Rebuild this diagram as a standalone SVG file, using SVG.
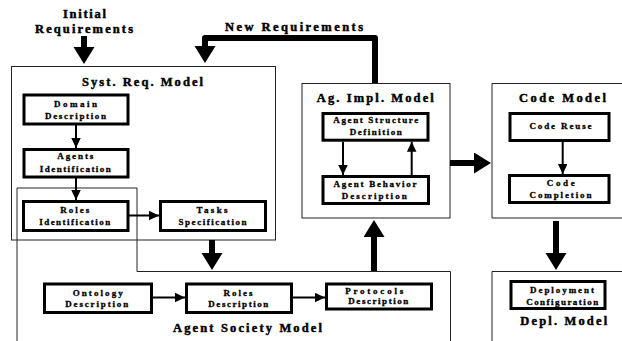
<svg xmlns="http://www.w3.org/2000/svg" width="622" height="341" viewBox="0 0 622 341">
  <style>
    .model { fill: none; stroke: #222; stroke-width: 1; }
    .node rect { fill: #fff; stroke: #000; stroke-width: 3; }
    text { font-family: "Liberation Serif", "Times New Roman", serif; font-weight: bold; fill: #000; stroke: #000; text-anchor: middle; }
    .t { font-size: 9px; stroke-width: 0.3; }
    .h { font-size: 12.5px; stroke-width: 0.45; }
    .thin { fill: none; stroke: #000; stroke-width: 2; }
    .thick { fill: none; stroke: #000; stroke-width: 6; stroke-linejoin: round; }
  </style>
  <defs>
    <marker id="head" markerUnits="userSpaceOnUse" markerWidth="11" markerHeight="10" refX="10" refY="4.75" orient="auto">
      <path d="M0,0 L10,4.75 L0,9.5 z" fill="#000"/>
    </marker>
    <marker id="bighead" markerUnits="userSpaceOnUse" markerWidth="18" markerHeight="22" refX="1" refY="10.5" orient="auto">
      <path d="M0,0 L17,10.5 L0,21 z" fill="#000"/>
    </marker>
  </defs>

  <!-- model containers -->
  <g id="syst-req-model">
    <rect class="model" x="11.5" y="66.5" width="264" height="173.5"/>
    <text class="h" x="142.5" y="86" textLength="121" lengthAdjust="spacing">Syst. Req. Model</text>
  </g>
  <g id="agent-society-model">
    <path class="model" d="M17,345 V188 H137 V271.5 H450.5 V345"/>
    <text class="h" x="247.5" y="331.5" textLength="149" lengthAdjust="spacing">Agent Society Model</text>
  </g>
  <g id="ag-impl-model">
    <rect class="model" x="302" y="83.5" width="148" height="134.5"/>
    <text class="h" x="375.3" y="101.5" textLength="117" lengthAdjust="spacing">Ag. Impl. Model</text>
  </g>
  <g id="code-model">
    <path class="model" d="M630,83.5 H492 V218 H630"/>
    <text class="h" x="562.5" y="101.5" textLength="87" lengthAdjust="spacing">Code Model</text>
  </g>
  <g id="depl-model">
    <path class="model" d="M630,271.5 H492 V345"/>
    <text class="h" x="563.7" y="325" textLength="87" lengthAdjust="spacing">Depl. Model</text>
  </g>

  <!-- free labels -->
  <g id="initial-requirements">
    <text class="h" x="84.5" y="18.3" textLength="43" lengthAdjust="spacing">Initial</text>
    <text class="h" x="84" y="33.3" textLength="98" lengthAdjust="spacing">Requirements</text>
  </g>
  <g id="new-requirements">
    <text class="h" x="294" y="30.5" textLength="138" lengthAdjust="spacing">New Requirements</text>
  </g>

  <!-- connectors -->
  <g id="connectors">
    <line class="thick" x1="84" y1="36" x2="84" y2="48" marker-end="url(#bighead)"/>
    <path class="thick" d="M375,83 V38 H205 V47" marker-end="url(#bighead)"/>
    <line class="thick" x1="212" y1="240" x2="212" y2="254" marker-end="url(#bighead)"/>
    <line class="thick" x1="374" y1="271" x2="374" y2="236" marker-end="url(#bighead)"/>
    <line class="thick" x1="450" y1="163" x2="475" y2="163" marker-end="url(#bighead)"/>
    <line class="thick" x1="556" y1="221" x2="556" y2="254" marker-end="url(#bighead)"/>

    <line class="thin" x1="76" y1="125" x2="76" y2="148" marker-end="url(#head)"/>
    <line class="thin" x1="76" y1="178" x2="76" y2="200" marker-end="url(#head)"/>
    <line class="thin" x1="129" y1="215.5" x2="159" y2="215.5" marker-end="url(#head)"/>
    <line class="thin" x1="153" y1="297.5" x2="185" y2="297.5" marker-end="url(#head)"/>
    <line class="thin" x1="293" y1="297.5" x2="325" y2="297.5" marker-end="url(#head)"/>
    <line class="thin" x1="343" y1="141.7" x2="343" y2="175" marker-end="url(#head)"/>
    <line class="thin" x1="411.7" y1="175" x2="411.7" y2="141.7" marker-end="url(#head)"/>
    <line class="thin" x1="562.7" y1="141.7" x2="562.7" y2="174" marker-end="url(#head)"/>
  </g>

  <!-- activity nodes -->
  <g id="domain-description" class="node">
    <rect x="24" y="95" width="104" height="29"/>
    <text class="t" x="75.5" y="106.7" textLength="43" lengthAdjust="spacing">Domain</text>
    <text class="t" x="75.5" y="119.3" textLength="61" lengthAdjust="spacing">Description</text>
  </g>
  <g id="agents-identification" class="node">
    <rect x="24" y="149.5" width="104" height="27.5"/>
    <text class="t" x="75.3" y="159.3" textLength="36" lengthAdjust="spacing">Agents</text>
    <text class="t" x="75.3" y="171.7" textLength="71" lengthAdjust="spacing">Identification</text>
  </g>
  <g id="roles-identification" class="node">
    <rect x="23.5" y="201.5" width="104.5" height="29"/>
    <text class="t" x="74.7" y="212.7" textLength="29" lengthAdjust="spacing">Roles</text>
    <text class="t" x="74.7" y="225" textLength="71" lengthAdjust="spacing">Identification</text>
  </g>
  <g id="tasks-specification" class="node">
    <rect x="160.5" y="201.5" width="105" height="29"/>
    <text class="t" x="212" y="212.7" textLength="31" lengthAdjust="spacing">Tasks</text>
    <text class="t" x="212.5" y="225" textLength="68" lengthAdjust="spacing">Specification</text>
  </g>
  <g id="ontology-description" class="node">
    <rect x="44.5" y="284" width="107" height="28.5"/>
    <text class="t" x="97.7" y="296" textLength="50" lengthAdjust="spacing">Ontology</text>
    <text class="t" x="96.7" y="306.5" textLength="63" lengthAdjust="spacing">Description</text>
  </g>
  <g id="roles-description" class="node">
    <rect x="186.5" y="284" width="105" height="28.5"/>
    <text class="t" x="238" y="296" textLength="29" lengthAdjust="spacing">Roles</text>
    <text class="t" x="238.3" y="306.5" textLength="60" lengthAdjust="spacing">Description</text>
  </g>
  <g id="protocols-description" class="node">
    <rect x="326.5" y="284" width="105" height="25"/>
    <text class="t" x="374.2" y="294" textLength="58" lengthAdjust="spacing">Protocols</text>
    <text class="t" x="378.3" y="304.3" textLength="60" lengthAdjust="spacing">Description</text>
  </g>
  <g id="agent-structure-definition" class="node">
    <rect x="323" y="113.5" width="105" height="26.7"/>
    <text class="t" x="375.8" y="123.3" textLength="85" lengthAdjust="spacing">Agent Structure</text>
    <text class="t" x="375.8" y="135" textLength="52" lengthAdjust="spacing">Definition</text>
  </g>
  <g id="agent-behavior-description" class="node">
    <rect x="323" y="176.5" width="105.5" height="27"/>
    <text class="t" x="375" y="187.3" textLength="83" lengthAdjust="spacing">Agent Behavior</text>
    <text class="t" x="374.2" y="199" textLength="65" lengthAdjust="spacing">Description</text>
  </g>
  <g id="code-reuse" class="node">
    <rect x="510" y="113.5" width="99" height="27"/>
    <text class="t" x="560.5" y="129.3" textLength="62" lengthAdjust="spacing">Code Reuse</text>
  </g>
  <g id="code-completion" class="node">
    <rect x="509.5" y="175.5" width="99.5" height="27"/>
    <text class="t" x="560.8" y="186" textLength="28" lengthAdjust="spacing">Code</text>
    <text class="t" x="560.5" y="198.3" textLength="62" lengthAdjust="spacing">Completion</text>
  </g>
  <g id="deployment-configuration" class="node">
    <rect x="511" y="281.5" width="94" height="27"/>
    <text class="t" x="562" y="292.7" textLength="64" lengthAdjust="spacing">Deployment</text>
    <text class="t" x="562.2" y="305" textLength="72" lengthAdjust="spacing">Configuration</text>
  </g>
</svg>
